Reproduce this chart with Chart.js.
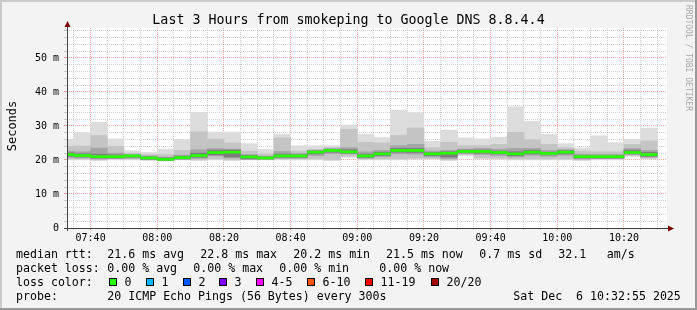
<!DOCTYPE html>
<html lang="en">
<head>
<meta charset="UTF-8">
<title>Smokeping – Google DNS 8.8.4.4</title>
<script src="https://cdn.jsdelivr.net/npm/chart.js@4.4.1/dist/chart.umd.min.js"></script>
<style>
  html, body { margin: 0; padding: 0; background: #f3f3f3; }
  canvas { display: block; }
</style>
</head>
<body>
<canvas id="smoke" width="697" height="310"></canvas>
<script>
// 5 minute buckets (start time), values in ms
const binStarts = ['07:30', '07:35', '07:40', '07:45', '07:50', '07:55', '08:00', '08:05', '08:10',
  '08:15', '08:20', '08:25', '08:30', '08:35', '08:40', '08:45', '08:50', '08:55', '09:00', '09:05',
  '09:10', '09:15', '09:20', '09:25', '09:30', '09:35', '09:40', '09:45', '09:50', '09:55', '10:00',
  '10:05', '10:10', '10:15', '10:20', '10:25'];
const median = [21.6, 21.3, 21.0, 21.0, 21.2, 20.6, 20.2, 20.7, 21.3, 22.2, 22.3, 20.9, 20.6, 21.2,
  21.2, 22.3, 22.8, 22.4, 21.2, 21.8, 22.8, 22.8, 21.8, 22.0, 22.5, 22.5, 22.2, 21.8, 22.3, 21.9,
  22.3, 21.0, 21.0, 21.0, 22.2, 21.6];
const rttMin = [20.0, 20.0, 19.8, 20.0, 20.0, 19.8, 19.7, 20.0, 19.8, 20.0, 19.8, 20.0, 20.0, 20.0,
  20.0, 20.0, 19.8, 20.8, 20.0, 20.0, 20.0, 20.2, 20.2, 19.8, 21.3, 20.3, 20.2, 20.0, 20.0, 20.0,
  20.0, 19.8, 20.0, 20.0, 21.0, 20.3];
const rttMax = [26.1, 28.0, 31.1, 26.2, 22.7, 22.2, 23.2, 26.0, 34.0, 28.2, 28.2, 24.8, 23.1, 27.6,
  24.2, 24.2, 24.2, 30.3, 27.6, 26.6, 34.7, 33.9, 25.5, 28.8, 26.5, 26.2, 26.7, 35.6, 31.4, 27.5,
  24.8, 23.5, 27.1, 25.1, 26.1, 29.4];
const midLo = [20.3, 20.3, 20.1, 20.3, 20.3, 20.1, 20.0, 20.3, 20.1, 20.3, 20.1, 20.3, 20.3, 20.3,
  20.3, 20.3, 20.1, 21.1, 20.3, 20.3, 20.3, 20.5, 20.5, 20.1, 21.6, 20.6, 20.5, 20.3, 20.3, 20.3,
  20.3, 20.1, 20.3, 20.3, 21.3, 20.6];
const midHi = [24.0, 24.1, 27.2, 24.0, 22.0, 21.6, 21.6, 22.8, 28.3, 26.1, 25.0, 22.6, 21.8, 26.5,
  22.6, 23.0, 23.6, 29.0, 25.2, 25.0, 27.2, 29.4, 23.6, 25.2, 24.2, 24.2, 24.6, 28.1, 26.0, 24.6,
  23.6, 22.6, 22.4, 22.4, 24.6, 25.6];
const innerLo = [20.8, 20.6, 20.3, 20.4, 20.5, 20.1, 19.9, 20.2, 20.5, 21.2, 20.6, 20.2, 20.2, 20.5,
  20.5, 21.3, 21.9, 21.8, 20.5, 21.0, 21.8, 21.7, 20.9, 20.4, 21.9, 21.6, 21.3, 20.9, 21.4, 21.1,
  21.4, 20.3, 20.4, 20.4, 21.6, 20.8];
const innerHi = [22.6, 22.4, 23.5, 22.0, 21.6, 21.2, 20.8, 21.4, 23.0, 23.4, 23.2, 21.6, 21.1, 22.5,
  21.9, 22.9, 23.4, 23.6, 22.4, 22.8, 24.2, 24.6, 22.6, 22.8, 23.2, 23.4, 23.2, 23.4, 23.4, 22.8,
  23.0, 21.7, 21.6, 21.6, 23.4, 22.8];
const coreLo = [21.1, 20.9, 20.6, 20.6, 20.8, 20.2, 19.9, 20.3, 20.8, 21.5, 20.9, 20.3, 20.3, 20.8,
  20.8, 21.8, 22.3, 22.0, 20.8, 21.3, 22.3, 22.2, 21.3, 20.9, 22.1, 22.0, 21.8, 21.3, 21.8, 21.5,
  21.8, 20.6, 20.6, 20.6, 21.8, 21.1];
const coreHi = [22.1, 21.8, 21.7, 21.5, 21.4, 20.9, 20.6, 21.1, 22.0, 22.8, 22.9, 21.3, 20.9, 21.7,
  21.5, 22.6, 23.1, 23.0, 21.7, 22.3, 23.4, 23.4, 22.2, 22.4, 22.9, 22.9, 22.6, 22.4, 22.8, 22.3,
  22.7, 21.3, 21.3, 21.3, 22.8, 22.2];

const xTickLabels = ['07:40', '08:00', '08:20', '08:40', '09:00', '09:20', '09:40', '10:00', '10:20'];
const endTime = '10:32:55';
const spanMinutes = 180;

const lossLabels = ['0', '1', '2', '3', '4-5', '6-10', '11-19', '20/20'];
const lossColors = ['#26ff00', '#00b8ff', '#0059ff', '#7e00ff', '#ff00ff', '#ff5500', '#ff0000', '#a10000'];

const toMin = s => { const p = s.split(':').map(Number); return p[0] * 60 + p[1] + (p[2] || 0) / 60; };
const fmt = v => String(Math.floor(v / 60)).padStart(2, '0') + ':' + String(Math.round(v % 60)).padStart(2, '0');
const viewEnd = toMin(endTime);
const viewStart = viewEnd - spanMinutes;

const centres = binStarts.map(t => toMin(t) + 2.5);
const span = (lo, hi) => centres.map((x, i) => ({ x, y: [lo[i], hi[i]] }));

const MONO = '"DejaVu Sans Mono", "Liberation Mono", monospace';
const GRID = 'rgba(143,143,143,0.42)';
const MGRID = 'rgba(222,80,80,0.5)';

const barOpts = { grouped: false, barPercentage: 1, categoryPercentage: 1, borderWidth: 0 };

// rrdtool style frame, title and legend
const rrdLook = {
  id: 'rrdLook',
  beforeDraw(chart) {
    const { ctx, chartArea: a } = chart;
    ctx.save();
    ctx.fillStyle = '#f3f3f3';
    ctx.fillRect(0, 0, 697, 310);
    ctx.fillStyle = '#cbcbcb';
    ctx.fillRect(0, 0, 697, 2);
    ctx.fillRect(0, 0, 2, 310);
    ctx.fillStyle = '#999999';
    ctx.fillRect(0, 308, 697, 2);
    ctx.fillRect(695, 0, 2, 310);
    ctx.fillStyle = '#ffffff';
    ctx.fillRect(a.left, a.top, a.right - a.left, a.bottom - a.top);
    ctx.restore();
  },
  afterDraw(chart) {
    const { ctx, chartArea: a } = chart;
    ctx.save();
    // axes + arrows
    ctx.strokeStyle = '#404040';
    ctx.lineWidth = 1;
    ctx.beginPath();
    ctx.moveTo(a.left + 0.5, a.bottom + 3);
    ctx.lineTo(a.left + 0.5, a.top - 2);
    ctx.moveTo(a.left - 3, a.bottom + 0.5);
    ctx.lineTo(a.right + 2, a.bottom + 0.5);
    ctx.stroke();
    ctx.fillStyle = '#7f0000';
    ctx.beginPath();
    ctx.moveTo(a.left + 0.5, a.top - 7);
    ctx.lineTo(a.left - 2.5, a.top - 1);
    ctx.lineTo(a.left + 3.5, a.top - 1);
    ctx.fill();
    ctx.beginPath();
    ctx.moveTo(a.right + 7, a.bottom + 0.5);
    ctx.lineTo(a.right + 1, a.bottom - 2.5);
    ctx.lineTo(a.right + 1, a.bottom + 3.5);
    ctx.fill();

    ctx.fillStyle = '#000';
    ctx.textBaseline = 'alphabetic';
    ctx.textAlign = 'center';
    ctx.font = '13.3px ' + MONO;
    ctx.fillText('Last 3 Hours from smokeping to Google DNS 8.8.4.4', 348.5, 24);

    ctx.save();
    ctx.font = '12px ' + MONO;
    ctx.translate(15.5, 126);
    ctx.rotate(-Math.PI / 2);
    ctx.fillText('Seconds', 0, 0);
    ctx.restore();

    ctx.save();
    ctx.fillStyle = '#a8a8a8';
    ctx.font = '8px ' + MONO;
    ctx.textAlign = 'left';
    ctx.translate(685.5, 5);
    ctx.rotate(Math.PI / 2);
    ctx.fillText('RRDTOOL / TOBI OETIKER', 0, 0);
    ctx.restore();

    ctx.textAlign = 'left';
    ctx.font = '11.6px ' + MONO;
    const put = (s, x, y) => ctx.fillText(s, x, y);
    put('median rtt:', 16, 258);
    put('21.6 ms avg', 107.3, 258);
    put('22.8 ms max', 200.3, 258);
    put('20.2 ms min', 293.3, 258);
    put('21.5 ms now', 386, 258);
    put('0.7 ms sd', 479.3, 258);
    put('32.1', 558.3, 258);
    put('am/s', 606.7, 258);

    put('packet loss:', 16, 272);
    put('0.00 % avg', 107.3, 272);
    put('0.00 % max', 193.3, 272);
    put('0.00 % min', 279.3, 272);
    put('0.00 % now', 379.3, 272);

    put('loss color:', 16, 286);
    const boxX = [108.7, 145.7, 182.7, 219.3, 256.3, 307, 365.3, 430.7];
    lossLabels.forEach((lab, i) => {
      const bx = Math.round(boxX[i]);
      ctx.fillStyle = lossColors[i];
      ctx.fillRect(bx, 278, 8, 8);
      ctx.strokeStyle = '#000';
      ctx.strokeRect(bx + 0.5, 278.5, 7, 7);
      ctx.fillStyle = '#000';
      put(lab, bx + 15.5, 286);
    });

    put('probe:', 16, 300);
    put('20 ICMP Echo Pings (56 Bytes) every 300s', 107.3, 300);
    put('Sat Dec  6 10:32:55 2025', 513.3, 300);
    ctx.restore();
  }
};

new Chart(document.getElementById('smoke'), {
  type: 'bar',
  data: {
    datasets: [
      { label: 'median', data: centres.map((x, i) => ({ x, y: [median[i] - 0.3, median[i] + 0.3] })),
        backgroundColor: lossColors[0], order: 0, ...barOpts },
      { label: 'core', data: span(coreLo, coreHi), backgroundColor: '#7c7c7c', order: 1, ...barOpts },
      { label: 'inner', data: span(innerLo, innerHi), backgroundColor: '#a4a4a4', order: 2, ...barOpts },
      { label: 'mid', data: span(midLo, midHi), backgroundColor: '#c4c4c4', order: 3, ...barOpts },
      { label: 'range', data: span(rttMin, rttMax), backgroundColor: '#dcdcdc', order: 4, ...barOpts }
    ]
  },
  options: {
    responsive: false,
    animation: false,
    events: [],
    layout: { padding: { left: 0, top: 28, right: 30, bottom: 62 } },
    plugins: { legend: { display: false }, tooltip: { enabled: false }, title: { display: false } },
    scales: {
      x: {
        type: 'linear',
        min: viewStart,
        max: viewEnd,
        offset: false,
        z: 1,
        afterBuildTicks: s => {
          const t = [];
          for (let v = Math.ceil(s.min / 5) * 5; v <= s.max; v += 5) t.push({ value: v });
          s.ticks = t;
        },
        afterFit: s => { s.height = 20; },
        grid: {
          offset: false,
          color: c => xTickLabels.includes(fmt(c.tick.value)) ? MGRID : GRID,
          tickColor: c => xTickLabels.includes(fmt(c.tick.value)) ? MGRID : GRID,
          tickLength: 2
        },
        border: { display: false, dash: [1, 1] },
        ticks: {
          autoSkip: false,
          maxRotation: 0,
          padding: 2,
          color: '#000',
          font: { family: MONO, size: 10 },
          callback: v => xTickLabels.includes(fmt(v)) ? fmt(v) : ''
        }
      },
      y: {
        min: 0,
        max: 58.8,
        z: 1,
        afterFit: s => { s.width = 67; },
        grid: {
          color: c => Math.round(c.tick.value) % 10 ? GRID : MGRID,
          tickColor: c => Math.round(c.tick.value) % 10 ? GRID : MGRID,
          tickLength: 3
        },
        border: { display: false, dash: [1, 1] },
        ticks: {
          stepSize: 2,
          includeBounds: false,
          autoSkip: false,
          padding: 5,
          color: '#000',
          font: { family: MONO, size: 10 },
          callback: v => { const r = Math.round(v); return r % 10 ? '' : (r ? r + ' m' : '0'); }
        }
      }
    }
  },
  plugins: [rrdLook]
});
</script>
</body>
</html>
